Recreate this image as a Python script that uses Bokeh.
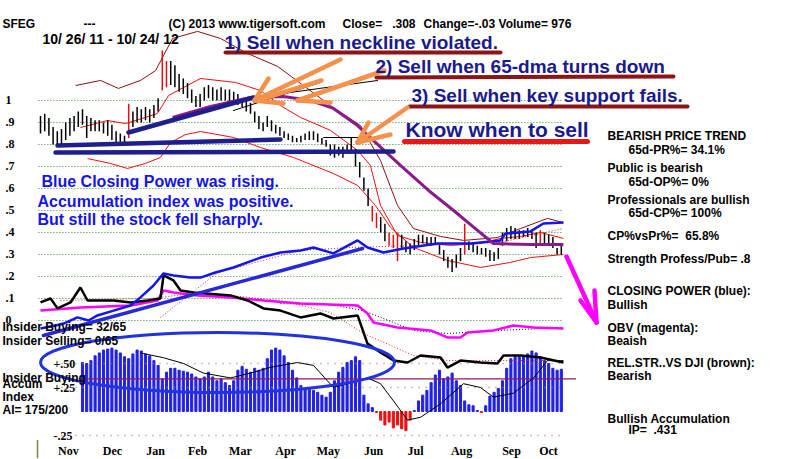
from bokeh.plotting import figure
from bokeh.models import Range1d, Label
from bokeh.embed import file_html
from bokeh.resources import INLINE

# ---------------- data ----------------
BAR_DAYS = list(range(0, 250, 2))
BAR_HI = [.93,.94,.92,.88,.86,.87,.90,.92,.93,.95,
          .96,.93,.92,.91,.91,.90,.91,.89,.86,.85,
          .84,.985,.95,.97,.96,.97,.96,.98,1.01,1.227,
          1.18,1.18,1.16,1.12,1.10,1.08,1.05,1.02,1.03,1.06,
          1.07,1.06,1.05,1.06,1.05,1.05,1.04,1.03,1.01,1.00,
          .99,.95,.93,.90,.93,.91,.89,.88,.86,.85,
          .84,.83,.84,.85,.86,.86,.85,.83,.82,.80,
          .80,.79,.79,.80,.83,.78,.72,.65,.60,.52,
          .49,.47,.44,.40,.39,.40,.39,.36,.35,.37,
          .39,.39,.38,.38,.38,.35,.32,.29,.28,.30,
          .33,.44,.36,.35,.34,.33,.33,.32,.31,.33,
          .40,.42,.43,.42,.41,.41,.42,.41,.40,.41,
          .40,.39,.38,.33,.34]
BAR_LO = [.85,.86,.84,.80,.79,.80,.82,.84,.86,.88,
          .89,.83,.86,.86,.86,.85,.84,.82,.81,.81,
          .80,.83,.88,.90,.90,.91,.90,.92,.95,1.045,
          1.06,1.07,1.06,1.04,1.03,1.01,.99,.97,.97,1.00,
          1.01,1.00,1.00,1.00,1.00,.99,.99,.98,.97,.95,
          .94,.90,.87,.86,.88,.86,.85,.84,.83,.82,
          .81,.81,.81,.82,.82,.82,.81,.80,.79,.75,
          .74,.75,.74,.76,.77,.70,.65,.59,.52,.45,
          .42,.40,.36,.34,.33,.27,.33,.31,.30,.32,
          .34,.35,.34,.34,.35,.30,.27,.24,.22,.24,
          .27,.30,.32,.31,.30,.30,.29,.27,.27,.28,
          .34,.36,.37,.37,.37,.38,.38,.37,.33,.35,
          .35,.34,.33,.30,.30]
RED_BARS = [21, 29, 30, 79, 80, 83, 84, 85, 101, 119]

# bands / averages (day, price)
OUTER_BAND_D = [16.7,28.6,37.1,47.6,54.8,58.6,62.9,74.8,85.7,97.6,112.9,138.1,152.4,161.9,170,177.6,190.5,201.4,217.6,228.6,241.4,249]
OUTER_BAND_P = [1.068,1.091,1.055,1.091,1.136,1.205,1.282,1.314,1.282,1.218,1.155,0.977,0.886,0.727,0.523,0.418,0.382,0.364,0.377,0.418,0.464,0.445]
UPPER_BAND_D = [19,31.9,40.5,50,55.7,61,68.1,76.2,92.9,104.8,114.3,123.8,138.1,151,157.1,161.9,170,181,195.2,209.5,219,228.6,238.1,249]
UPPER_BAND_P = [0.877,0.909,0.895,0.923,0.941,1.023,1.059,1.1,1.082,1.045,0.977,0.923,0.864,0.773,0.705,0.523,0.386,0.355,0.341,0.35,0.373,0.382,0.4,0.373]
LOWER_BAND_D = [22.4,33.3,41.4,50,57.1,61.9,69,76.2,91.9,104.8,120.5,139.5,151,159.5,166.7,177.6,193.8,209.5,223.8,233.3,249]
LOWER_BAND_P = [0.736,0.714,0.691,0.714,0.741,0.809,0.845,0.859,0.832,0.786,0.741,0.668,0.614,0.523,0.423,0.332,0.273,0.241,0.264,0.286,0.3]
MA65_D = [62.9,81,100,115.7,128.6,139.5,151,158.6,171.4,184.8,196.7,207.1,215.7,233.3,249]
MA65_P = [0.923,0.973,1.014,1.018,1.0,0.964,0.886,0.818,0.705,0.591,0.5,0.418,0.35,0.345,0.345]

# indicator lines (panel units)
CP_D = [0,7.1,11,17.6,22.9,27.1,34.8,42.9,47.6,53.8,58.6,63.3,71.4,76.2,83.3,91.9,104.8,114.3,123.8,130,139.5,151,155.7,163.3,172.9,189,204.8,219,221.4,233.3,239.5,249]
CP_V = [-0.036,-0.023,-0.014,0.014,0,0.023,0.045,0.068,0.105,0.159,0.214,0.205,0.195,0.195,0.218,0.241,0.286,0.309,0.318,0.332,0.305,0.364,0.332,0.309,0.327,0.35,0.35,0.364,0.395,0.405,0.441,0.445]
CP_MA_D = [57.1,84.3,123.8,147.6,181,219,249]
CP_MA_V = [0.014,0.218,0.318,0.332,0.341,0.355,0.418]
RS_D = [0,4.8,8.1,14.3,19,22.4,34.8,42.9,51,57.1,58.6,63.3,66.7,72.9,90.5,98.6,106.2,114.3,123.8,133.3,139.5,151,155.7,161.9,168.1,174.8,181,190.5,193.8,200,209.5,217.6,220.5,228.6,238.1,249]
RS_V = [0.082,0.1,0.055,0.082,0.15,0.091,0.091,0.082,0.091,0.1,0.205,0.182,0.136,0.127,0.114,0.091,0.055,0.045,0.014,0.032,0.009,0.023,-0.105,-0.145,-0.182,-0.191,-0.159,-0.168,-0.214,-0.182,-0.191,-0.195,-0.159,-0.159,-0.168,-0.191]
RS_MA_D = [9.5,52.4,76.2,114.3,138.1,153.8,177.6,193.8,249]
RS_MA_V = [0.091,0.1,0.127,0.091,0.036,-0.059,-0.159,-0.182,-0.182]
OBV_D = [0,19,42.9,55.7,58.6,63.3,74.8,90.5,106.2,123.8,151,155.7,158.6,170,185.7,193.8,200,203.3,215.7,225.2,234.8,249]
OBV_V = [0.045,0.059,0.068,0.091,0.136,0.127,0.114,0.105,0.091,0.077,0.068,0.032,-0.009,-0.032,-0.045,-0.077,-0.077,-0.055,-0.045,-0.023,-0.032,-0.036]
OBV_MA_D = [114.3,138.1,153.8,177.6,193.8,219,249]
OBV_MA_V = [0.077,0.073,0.045,-0.045,-0.059,-0.045,-0.032]

# accumulation index
ACC_DAYS = BAR_DAYS[10:]
ACC = [0.51,0.50,0.53,0.58,0.61,0.64,0.65,0.66,0.64,0.61,
       0.57,0.55,0.60,0.64,0.63,0.60,0.58,0.53,0.48,0.34,
       0.41,0.45,0.45,0.43,0.42,0.41,0.39,0.36,0.34,0.36,
       0.41,0.36,0.32,0.34,0.30,0.27,0.32,0.43,0.47,0.44,
       0.41,0.45,0.43,0.45,0.55,0.64,0.66,0.64,0.58,0.51,
       0.43,0.35,0.27,0.24,0.24,0.22,0.20,0.17,0.15,0.20,
       0.32,0.41,0.46,0.51,0.53,0.57,0.53,0.17,0.08,0.04,
       -0.01,-0.09,-0.14,-0.11,-0.17,-0.14,-0.18,-0.20,-0.09,0.01,
       0.11,0.17,0.22,0.30,0.38,0.43,0.34,0.36,0.40,0.32,
       0.27,0.11,0.07,0.06,0.01,-0.01,0.06,0.16,0.20,0.24,
       0.32,0.45,0.55,0.57,0.57,0.58,0.60,0.63,0.61,0.57,
       0.53,0.50,0.45,0.43,0.44]
ACC_MA_D = [47.6,58.6,68.1,77.6,90.5,100,109.5,122.4,130,139.5,146.2,155.7,161.9,168.1,174.8,181,190.5,201.4,209.5,215.7,225.2,234.8,241.4,249]
ACC_MA_V = [0.61,0.56,0.50,0.40,0.35,0.40,0.46,0.51,0.48,0.25,0.29,0.35,0.29,0.11,-0.09,-0.06,0.08,0.29,0.25,0.15,0.19,0.35,0.53,0.53]
ACC_REF = 0.34

PRICE_LEVELS = [1.0, 0.9, 0.8, 0.7, 0.6, 0.5, 0.4, 0.3, 0.2, 0.1, 0.0]
PRICE_LABELS = ["1", ".9", ".8", ".7", ".6", ".5", ".4", ".3", ".2", ".1", "0"]
ACC_LEVELS = [0.5, 0.25, -0.25]
ACC_LABELS = ["+.50", "+.25", "-.25"]
MONTHS = ["Nov", "Dec", "Jan", "Feb", "Mar", "Apr", "May", "Jun", "Jul", "Aug", "Sep", "Oct"]
MONTH_DAYS = [13.3, 34.3, 54.8, 74.8, 95.2, 116.7, 137.1, 158.6, 178.6, 200.5, 224.3, 241.9]

# ---------------- figure ----------------
FONT = "Liberation Sans"
NB = "\u00a0"
p = figure(width=800, height=459, x_range=Range1d(-19.048, 361.905),
           y_range=Range1d(-0.6318, 1.4545), output_backend="svg",
           toolbar_location=None, min_border=0,
           x_axis_location=None, y_axis_location=None)
p.extra_y_ranges = {"acc": Range1d(-0.5, 4.28125), "py": Range1d(459, 0)}
p.extra_x_ranges = {"px": Range1d(0, 800)}
p.grid.visible = False
p.outline_line_color = None
p.background_fill_color = "white"
p.border_fill_color = "white"

# price grid
p.segment(x0=[-1]*len(PRICE_LEVELS), x1=[249]*len(PRICE_LEVELS), y0=PRICE_LEVELS, y1=PRICE_LEVELS,
          line_color="#2E8B2E", line_dash="1 2", line_width=1)
p.text(x=[5]*len(PRICE_LEVELS), y=PRICE_LEVELS, text=PRICE_LABELS, x_range_name="px",
       text_font=FONT, text_font_style="bold", text_font_size="12px",
       text_baseline="middle", text_color="black")

# accumulation panel
acc_colors = ["#2020E8" if v >= 0 else "#E81010" for v in ACC]
p.vbar(x=ACC_DAYS, top=ACC, bottom=0, width=1.0, color=acc_colors, y_range_name="acc")
p.segment(x0=[10]*3, x1=[249]*3, y0=ACC_LEVELS, y1=ACC_LEVELS, y_range_name="acc",
          line_color="#B07878", line_dash="1 6", line_width=1.5)
p.segment(x0=[19], x1=[255], y0=[ACC_REF], y1=[ACC_REF], y_range_name="acc",
          line_color="#8B1A5A", line_width=1.2)
p.line(ACC_MA_D, ACC_MA_V, y_range_name="acc", line_color="black", line_width=1)
p.text(x=[53]*3, y=ACC_LEVELS, text=ACC_LABELS, x_range_name="px", y_range_name="acc",
       text_font=FONT, text_font_style="bold", text_font_size="12px",
       text_baseline="middle", text_color="black")

# bands
p.line(OUTER_BAND_D, OUTER_BAND_P, line_color="#8B1010", line_width=1)
p.line(UPPER_BAND_D, UPPER_BAND_P, line_color="#F01010", line_width=1)
p.line(LOWER_BAND_D, LOWER_BAND_P, line_color="#F01010", line_width=1)

# price bars
bar_colors = ["#E01010" if i in RED_BARS else "black" for i in range(len(BAR_DAYS))]
p.segment(x0=BAR_DAYS, x1=BAR_DAYS, y0=BAR_LO, y1=BAR_HI, line_color=bar_colors, line_width=1.5)

# indicator lines
p.line(CP_MA_D, CP_MA_V, line_color="#E02020", line_dash="1 2", line_width=1)
p.line(RS_MA_D, RS_MA_V, line_color="#E02020", line_dash="1 2", line_width=1)
p.line(OBV_MA_D, OBV_MA_V, line_color="black", line_dash="1 2", line_width=1)
p.line(OBV_D, OBV_V, line_color="#FF00FF", line_width=2.5)
p.line(RS_D, RS_V, line_color="black", line_width=2.5)
p.line(CP_D, CP_V, line_color="#1414F0", line_width=2.5)

# 65-dma
p.line(MA65_D, MA65_P, line_color="#8B1A8B", line_width=3)

# ---------------- hand-drawn annotations (pixel space) ----------------
def px_lines(xs, ys, color, width, dash=None):
    kw = dict(x_range_name="px", y_range_name="py", line_color=color, line_width=width,
              line_cap="round")
    if dash:
        kw["line_dash"] = dash
    p.multi_line(xs=xs, ys=ys, **kw)

# thin lines near the top
px_lines([[233, 320], [253, 377], [323, 380]], [[110, 82], [97, 80], [137, 137]], "black", 1)
# trend lines (navy) and blue CP trend
px_lines([[55, 393], [57, 280], [128, 253]], [[152, 151], [145, 139], [132, 97]], "#1E1E8C", 4.5)
px_lines([[43, 362]], [[335, 248]], "#2828D8", 3.5)
# ellipse
p.ellipse(x=[217], y=[362], width=[354], height=[60], x_range_name="px", y_range_name="py",
          fill_color=None, line_color="#2233DD", line_width=3)
# underlines
px_lines([[225, 500], [376, 673], [409, 687]], [[52, 52], [77, 76], [106, 106]], "#8C1414", 4)
px_lines([[404, 587]], [[141, 141]], "#E81818", 5)
# orange arrows
px_lines([[340, 254], [321, 257], [268, 254], [254, 283],
          [384, 297], [297, 330],
          [407, 357], [368, 357], [390, 357]],
         [[59, 100], [80, 100], [78, 100], [100, 103],
          [70, 100], [100, 102],
          [107, 142], [122, 142], [134, 142]], "#F5914A", 4.5)
# magenta arrow
px_lines([[566, 596], [596, 580], [596, 594]], [[256, 322], [322, 300], [322, 290]], "#FF00FF", 4.5)
# small tick bottom-left
px_lines([[37, 37]], [[440, 457]], "#808040", 1.5)

# ---------------- texts ----------------
def ptext(x, y, s, size=12, color="black", align="left", style="bold"):
    p.add_layout(Label(x=x, y=y, x_range_name="px", y_range_name="py", text=s,
                       text_font=FONT, text_font_size=f"{size}px", text_font_style=style,
                       text_color=color, text_align=align, text_baseline="middle"))

ptext(2, 23, "SFEG")
ptext(83, 23, "---")
ptext(168, 23, "(C) 2013 www.tigersoft.com")
ptext(342, 23, "Close=" + NB * 3 + ".308")
ptext(423, 23, "Change=-.03 Volume= 976")
ptext(42, 38, "10/ 26/ 11 - 10/ 24/ 12", size=14)

NAVY = "#1A1A8C"
ptext(224, 42, "1) Sell when neckline violated.", size=19, color=NAVY)
ptext(375, 66, "2) Sell when 65-dma turns down", size=19, color=NAVY)
ptext(411, 95, "3) Sell when key support fails.", size=19, color=NAVY)
ptext(405, 129, "Know when to sell", size=21, color=NAVY)

BLUE = "#1414E6"
ptext(41, 181, "Blue Closing Power was rising.", size=16, color=BLUE)
ptext(37, 201, "Accumulation index was positive.", size=16, color=BLUE)
ptext(37, 219, "But still the stock fell sharply.", size=16, color=BLUE)

right = [(607, 135, "BEARISH PRICE TREND"), (628, 149, "65d-PR%= 34.1%"),
         (607, 167, "Public is bearish"), (628, 181, "65d-OP%= 0%"),
         (607, 199, "Professionals are bullish"), (628, 212, "65d-CP%= 100%"),
         (607, 235, "CP%vsPr%=" + NB * 2 + "65.8%"), (607, 258, "Strength Profess/Pub= .8"),
         (607, 290, "CLOSING POWER (blue):"), (607, 304, "Bullish"),
         (607, 327, "OBV (magenta):"), (607, 340, "Beaish"),
         (607, 362, "REL.STR..VS DJI (brown):"), (607, 375, "Bearish"),
         (607, 418, "Bullish Accumulation"), (628, 429, "IP=" + NB * 2 + ".431")]
for x, y, s in right:
    ptext(x, y, s)

ptext(2, 326, "Insider Buying= 32/65")
ptext(2, 340, "Insider Selling= 0/65")
ptext(2, 377, "Insider Buying")
ptext(2, 383, "Accum")
ptext(2, 396, "Index")
ptext(2, 409, "AI= 175/200")

p.text(x=MONTH_DAYS, y=[450]*len(MONTHS), text=MONTHS, y_range_name="py",
       text_font=FONT, text_font_style="bold", text_font_size="12px",
       text_align="center", text_baseline="middle", text_color="black")

open("out.html", "w").write(file_html(p, INLINE))
